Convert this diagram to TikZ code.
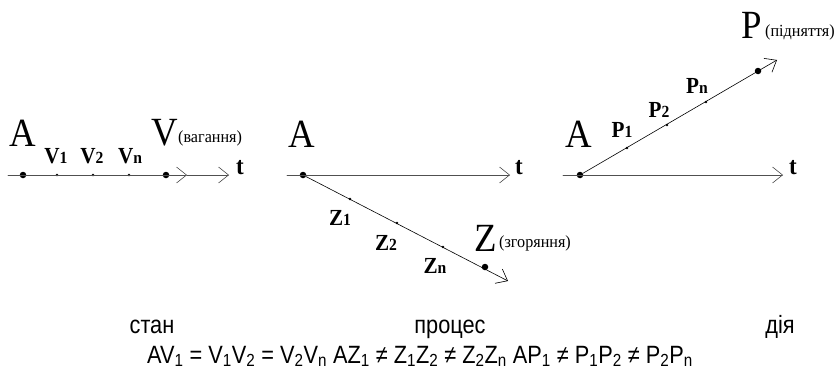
\documentclass[tikz,border=0pt]{standalone}
\usepackage{fontspec}
\setmainfont{Liberation Serif}[FakeStretch=0.92]
\setsansfont{Liberation Sans}[FakeStretch=0.87]
\newfontfamily\glossfont{Liberation Serif}[FakeStretch=0.95]
\usetikzlibrary{arrows.meta}
\definecolor{axInk}{HTML}{505050}
\tikzset{
 motion/.style={line cap=round,line join=round},
 barb/.tip={Straight Barb[length=10pt,width=16pt,line width=.6pt]},
 axis/.style={draw=axInk,line width=.8pt,-barb},
 ray/.style={draw=black,line width=.6pt,-barb},
 bigdot/.style={circle,fill=black,inner sep=0pt,minimum size=6.5pt},
 smalldot/.style={circle,fill=black,inner sep=0pt,minimum size=2.6pt},
 origin/.style={font=\fontsize{40}{40}\selectfont,anchor=base,inner sep=0pt},
 stagelabel/.style={font=\bfseries\fontsize{23}{23}\selectfont,anchor=base,inner sep=0pt},
 gloss/.style={font=\glossfont\fontsize{17}{17}\selectfont,anchor=base west,inner sep=0pt},
 timelabel/.style={font=\bfseries\fontsize{25}{25}\selectfont,anchor=base west,inner sep=0pt},
 caption/.style={font=\sffamily\fontsize{25}{25}\selectfont,anchor=base,inner sep=0pt}
}
\newcommand{\ix}[1]{{\fontsize{17}{17}\selectfont#1}}

\begin{document}
\begin{tikzpicture}[motion,x=1pt,y=-1pt]
 \useasboundingbox (0,0) rectangle (835,372);
 % state: points on the time axis
 \coordinate (s1) at (8,175); \coordinate (h1) at (187,175);
 \coordinate (e1) at (229,175);
 \node[bigdot] (a1) at (23,175) {};
 \node[smalldot] (v1) at (57,175) {};
 \node[smalldot] (v2) at (93,175) {};
 \node[smalldot] (vn) at (129,175) {};
 \node[bigdot] (vv) at (166,175) {};
 \draw[axis] (s1) -- (h1);
 \draw[axis] (h1) -- (e1);
 \node[origin] (la1) at (23,146) {A};
 \node[stagelabel] at (56,163) {V\ix{1}};
 \node[stagelabel] at (92,163) {V\ix{2}};
 \node[stagelabel] at (130,163) {V\ix{n}};
 \node[origin] (lv) at (165,145) {V};
 \node[gloss] at (178,142) {(вагання)};
 \node[timelabel] at (236,174) {t};
 % process: the path falls below the axis
 \coordinate (s2) at (287,175); \coordinate (e2) at (510,175);
 \coordinate (z0) at (508,281);
 \node[bigdot] (a2) at (303,175) {};
 \node[smalldot] (z1) at (350,199) {};
 \node[smalldot] (z2) at (397,223) {};
 \node[smalldot] (zn) at (443,247) {};
 \node[bigdot] (zz) at (485,267) {};
 \draw[axis] (s2) -- (e2);
 \draw[ray] (a2) -- (z0);
 \node[origin] at (302,147) {A};
 \node[timelabel] at (515,174) {t};
 \node[stagelabel] at (340,225) {Z\ix{1}};
 \node[stagelabel] at (386,250) {Z\ix{2}};
 \node[stagelabel] at (435,273) {Z\ix{n}};
 \node[origin] at (486,251) {Z};
 \node[gloss] at (499,247) {(згоряння)};
 % action: the path rises above the axis
 \coordinate (s3) at (563,175); \coordinate (e3) at (783,175);
 \coordinate (p0) at (777,60);
 \node[bigdot] (a3) at (580,175) {};
 \node[smalldot] (p1) at (627,148) {};
 \node[smalldot] (p2) at (667,125) {};
 \node[smalldot] (pn) at (706,102) {};
 \node[bigdot] (pp) at (758,71) {};
 \draw[axis] (s3) -- (e3);
 \draw[ray] (a3) -- (p0);
 \node[origin] at (579,147) {A};
 \node[timelabel] at (789,174) {t};
 \node[stagelabel] at (622,137) {P\ix{1}};
 \node[stagelabel] at (659,117) {P\ix{2}};
 \node[stagelabel] at (697,93) {P\ix{n}};
 \node[origin] at (752,38) {P};
 \node[gloss] at (765,36) {(підняття)};
 % captions
 \node[caption] at (152,333) {стан};
 \node[caption] at (450,333) {процес};
 \node[caption] at (780,333) {дія};
 \node[caption] at (420,363) {AV\textsubscript{1} = V\textsubscript{1}V\textsubscript{2} = V\textsubscript{2}V\textsubscript{n} AZ\textsubscript{1} ≠ Z\textsubscript{1}Z\textsubscript{2} ≠ Z\textsubscript{2}Z\textsubscript{n} AP\textsubscript{1} ≠ P\textsubscript{1}P\textsubscript{2} ≠ P\textsubscript{2}P\textsubscript{n}};
\end{tikzpicture}
\end{document}
